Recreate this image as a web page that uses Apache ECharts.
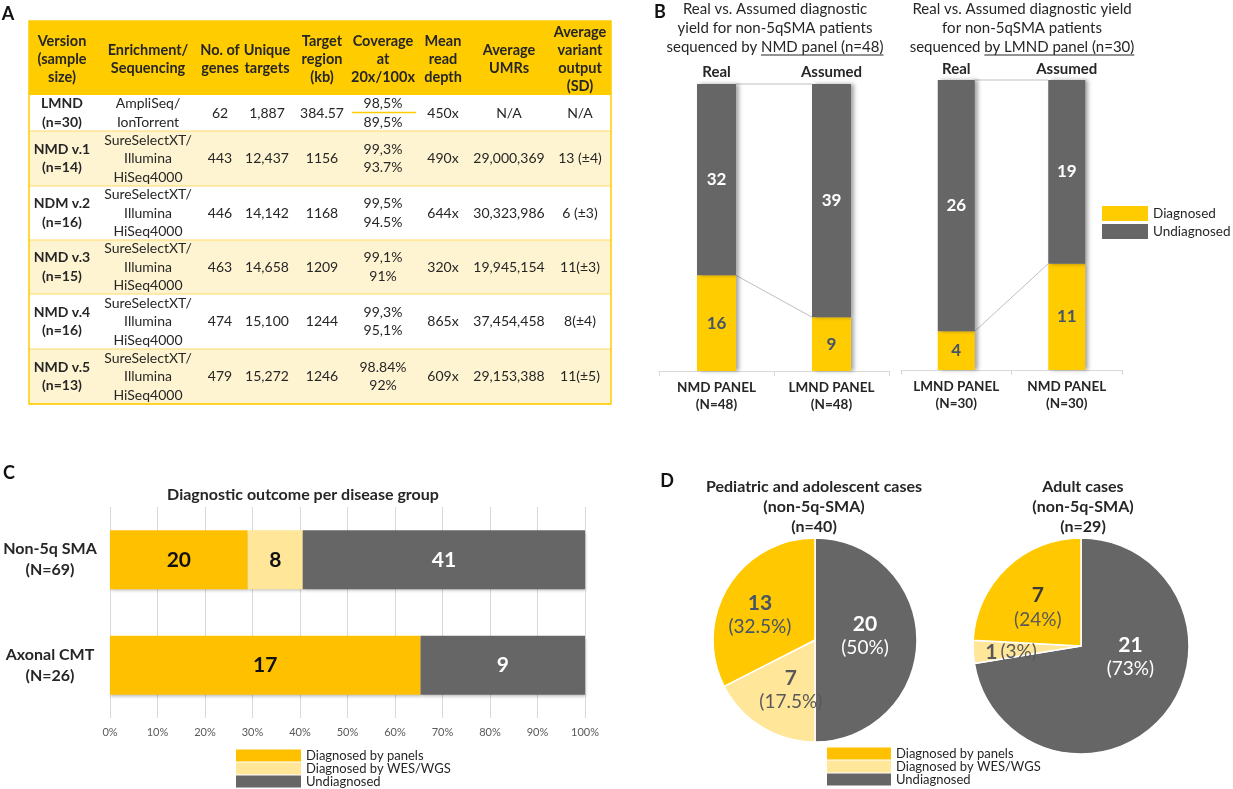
<!DOCTYPE html>
<html><head><meta charset="utf-8">
<script src="https://cdn.jsdelivr.net/npm/echarts@6/dist/echarts.min.js"></script>
<style>html,body{margin:0;padding:0;background:#fff}#c{width:1233px;height:789px}</style>
</head><body><div id="c"></div>
<script>
// ---------- Panel A (table) ----------
const tableHeaders = [['Version','(sample','size)'], ['Enrichment/','Sequencing'], ['No. of','genes'], ['Unique','targets'], ['Target','region','(kb)'], ['Coverage','at','20x/100x'], ['Mean','read','depth'], ['Average','UMRs'], ['Average','variant','output','(SD)']];
const tableVersions = [['LMND','(n=30)'], ['NMD v.1','(n=14)'], ['NDM v.2','(n=16)'], ['NMD v.3','(n=15)'], ['NMD v.4','(n=16)'], ['NMD v.5','(n=13)']];
const tableEnrichment = [['AmpliSeq/','IonTorrent'], ['SureSelectXT/','Illumina','HiSeq4000'], ['SureSelectXT/','Illumina','HiSeq4000'], ['SureSelectXT/','Illumina','HiSeq4000'], ['SureSelectXT/','Illumina','HiSeq4000'], ['SureSelectXT/','Illumina','HiSeq4000']];
const tableGenes = ['62','443','446','463','474','479'];
const tableTargets = ['1,887','12,437','14,142','14,658','15,100','15,272'];
const tableRegion = ['384.57','1156','1168','1209','1244','1246'];
const tableCoverage = [['98,5%','89,5%'], ['99,3%','93.7%'], ['99,5%','94.5%'], ['99,1%','91%'], ['99,3%','95,1%'], ['98.84%','92%']];
const tableDepth = ['450x','490x','644x','320x','865x','609x'];
const tableUMRs = ['N/A','29,000,369','30,323,986','19,945,154','37,454,458','29,153,388'];
const tableVariants = ['N/A','13 (±4)','6 (±3)','11(±3)','8(±4)','11(±5)'];

// ---------- Panel B ----------
const bTitleNMD = ['Real vs. Assumed diagnostic', 'yield for non-5qSMA patients', 'sequenced by NMD panel (n=48)'];
const bTitleLMND = ['Real vs. Assumed diagnostic yield', 'for non-5qSMA patients', 'sequenced by LMND panel (n=30)'];
const bCategoriesNMD = ['NMD PANEL\n(N=48)', 'LMND PANEL\n(N=48)'];
const bCategoriesLMND = ['LMND PANEL\n(N=30)', 'NMD PANEL\n(N=30)'];
const bTopLabels = ['Real', 'Assumed'];
const bDiagnosedNMD = [16, 9];
const bUndiagnosedNMD = [32, 39];
const bDiagnosedLMND = [4, 11];
const bUndiagnosedLMND = [26, 19];

// ---------- Panel C ----------
const cTitle = 'Diagnostic outcome per disease group';
const cCategories = ['Non-5q SMA\n(N=69)', 'Axonal CMT\n(N=26)'];
const cPanels = [20, 17];
const cWES = [8, 0];
const cUndiagnosed = [41, 9];

// ---------- Panel D ----------
const dTitlePediatric = ['Pediatric and adolescent cases', '(non-5q-SMA)', '(n=40)'];
const dTitleAdult = ['Adult cases', '(non-5q-SMA)', '(n=29)'];
const dNames = ['Undiagnosed', 'Diagnosed by WES/WGS', 'Diagnosed by panels'];
const dPediatric = [20, 7, 13];
const dPediatricPct = ['50%', '17.5%', '32.5%'];
const dAdult = [21, 1, 7];
const dAdultPct = ['73%', '3%', '24%'];

// ---------- styling ----------
const FONT = 'Lato';
const TXT = '#262626';
const YB = '#FFCC00';
const YP = '#FFC000';
const YW = '#FFE699';
const GR = '#666666';
const SLATE = '#44546A';

const chart = echarts.init(document.getElementById('c'), null, {renderer: 'canvas'});

function txt(x, y, text, opt) {
  opt = opt || {};
  return {
    type: 'text', x: x, y: y, silent: true, z: opt.z || 10,
    style: {
      text: text, fill: opt.color || TXT,
      fontFamily: FONT, fontSize: opt.size || 14, fontWeight: opt.weight || 'normal',
      align: opt.align || 'center', textAlign: opt.align || 'center',
      verticalAlign: opt.valign || 'middle', textVerticalAlign: opt.valign || 'middle',
      lineHeight: opt.lh || 18
    }
  };
}
function measure(str, font) {
  const c = document.createElement('canvas').getContext('2d');
  c.font = font; return c.measureText(str).width;
}

// ----- table graphic -----
const T = {left: 29, right: 611, headTop: 21, headBottom: 95, rowBottoms: [131, 186, 240, 294, 349, 404], cols: [62, 148, 220, 267, 322, 383, 443, 509, 580]};
const graphics = [];
graphics.push({type: 'rect', silent: true, z: 1, shape: {x: T.left, y: T.headTop, width: T.right - T.left, height: T.headBottom - T.headTop}, style: {fill: YB}});
let rowTop = T.headBottom;
T.rowBottoms.forEach(function (b, i) {
  graphics.push({type: 'rect', silent: true, z: 1, shape: {x: T.left, y: rowTop, width: T.right - T.left, height: b - rowTop}, style: {fill: i % 2 === 0 ? '#FFFFFF' : '#FFF4D1'}});
  graphics.push({type: 'line', silent: true, z: 2, shape: {x1: T.left, y1: b, x2: T.right, y2: b}, style: {stroke: '#FFD966', lineWidth: 1.2}});
  const cy = (rowTop + b) / 2;
  const cells = [tableVersions[i].join('\n'), tableEnrichment[i].join('\n'), tableGenes[i], tableTargets[i], tableRegion[i], tableCoverage[i].join('\n'), tableDepth[i], tableUMRs[i], tableVariants[i]];
  cells.forEach(function (c, j) {
    graphics.push(txt(T.cols[j], cy, c, {size: 14, weight: j === 0 ? 'bold' : 'normal', lh: 18.5}));
  });
  rowTop = b;
});
graphics.push({type: 'line', silent: true, z: 3, shape: {x1: 352, y1: 112.5, x2: 416, y2: 112.5}, style: {stroke: YB, lineWidth: 1.5}});
graphics.push({type: 'rect', silent: true, z: 3, shape: {x: T.left, y: T.headTop, width: T.right - T.left, height: T.rowBottoms[5] - T.headTop}, style: {fill: 'none', stroke: YB, lineWidth: 1.5}});
tableHeaders.forEach(function (h, j) {
  graphics.push(txt(T.cols[j], (T.headTop + T.headBottom) / 2 + 1, h.join('\n'), {size: 14.5, weight: 'bold', lh: 18}));
});

// ----- panel letters -----
graphics.push(txt(8, 14, 'A', {size: 18, weight: 'bold', color: '#111'}));
graphics.push(txt(660, 12, 'B', {size: 18, weight: 'bold', color: '#111'}));
graphics.push(txt(9, 473, 'C', {size: 18, weight: 'bold', color: '#111'}));
graphics.push(txt(667, 481, 'D', {size: 18, weight: 'bold', color: '#111'}));

// ----- B titles + underlines -----
const bT1x = 775, bT2x = 1022;
graphics.push(txt(bT1x, 0, bTitleNMD.join('\n'), {size: 15, lh: 19, valign: 'top'}));
graphics.push(txt(bT2x, 0, bTitleLMND.join('\n'), {size: 15, lh: 19, valign: 'top'}));
(function () {
  const f = '15px ' + FONT;
  const W1 = measure(bTitleNMD[2], f), p1 = measure('sequenced by ', f);
  const s1 = bT1x - W1 / 2;
  graphics.push({type: 'line', silent: true, shape: {x1: s1 + p1, y1: 55, x2: s1 + W1, y2: 55}, style: {stroke: TXT, lineWidth: 1}});
  const W2 = measure(bTitleLMND[2], f), p2 = measure('sequenced ', f);
  const s2 = bT2x - W2 / 2;
  graphics.push({type: 'line', silent: true, shape: {x1: s2 + p2, y1: 55, x2: s2 + W2, y2: 55}, style: {stroke: TXT, lineWidth: 1}});
})();

// ----- C title, D titles -----
graphics.push(txt(303, 495, cTitle, {size: 16, weight: 'bold'}));
graphics.push(txt(814, 477, dTitlePediatric.join('\n'), {size: 16, weight: 'bold', lh: 20, valign: 'top'}));
graphics.push(txt(1083, 477, dTitleAdult.join('\n'), {size: 16, weight: 'bold', lh: 20, valign: 'top'}));

// ----- helpers for series -----
const barShadow = {shadowColor: 'rgba(0,0,0,0.35)', shadowBlur: 4, shadowOffsetX: 3, shadowOffsetY: 0};
function bBar(name, data, xi, yi, stack, color, labelColor, width) {
  return {
    name: name, type: 'bar', xAxisIndex: xi, yAxisIndex: yi, stack: stack, data: data, barWidth: width,
    itemStyle: Object.assign({color: color}, barShadow),
    label: {show: true, position: 'inside', color: labelColor, fontFamily: FONT, fontWeight: 'bold', fontSize: 17},
    emphasis: {disabled: true}
  };
}
function connector(xi, yi, v0, v1, hw) {
  return {
    type: 'custom', xAxisIndex: xi, yAxisIndex: yi, silent: true, z: 1,
    data: [[0, v0, v1]], encode: {x: 0, y: [1, 2]},
    renderItem: function (params, api) {
      const a = api.coord([0, api.value(1)]);
      const b = api.coord([1, api.value(2)]);
      return {type: 'line', shape: {x1: a[0] + hw, y1: a[1], x2: b[0] - hw, y2: b[1]}, style: {stroke: '#bfbfbf', lineWidth: 1}};
    }
  };
}
function bottomCat(grid, data) {
  return {
    type: 'category', gridIndex: grid, position: 'bottom', data: data,
    axisLine: {lineStyle: {color: '#d9d9d9'}},
    axisTick: {show: true, length: 5, lineStyle: {color: '#d9d9d9'}},
    axisLabel: {interval: 0, color: TXT, fontFamily: FONT, fontWeight: 'bold', fontSize: 13.5, lineHeight: 17, margin: 8}
  };
}
function topCat(grid, data, margin) {
  return {
    type: 'category', gridIndex: grid, position: 'top', data: data,
    axisLine: {show: false}, axisTick: {show: false},
    axisLabel: {interval: 0, color: TXT, fontFamily: FONT, fontWeight: 'bold', fontSize: 15, margin: margin}
  };
}

const totalsNMD = bDiagnosedNMD.map(function (v, i) { return v + bUndiagnosedNMD[i]; });
const totalsLMND = bDiagnosedLMND.map(function (v, i) { return v + bUndiagnosedLMND[i]; });
const cTotals = cPanels.map(function (v, i) { return v + cWES[i] + cUndiagnosed[i]; });
function pct(arr) { return arr.map(function (v, i) { return v / cTotals[i] * 100; }); }
function cBar(name, counts, color, labelColor) {
  return {
    name: name, type: 'bar', xAxisIndex: 4, yAxisIndex: 2, stack: 'c', data: pct(counts), barWidth: 59,
    itemStyle: {color: color, shadowColor: 'rgba(0,0,0,0.25)', shadowBlur: 3, shadowOffsetX: 1, shadowOffsetY: 2},
    label: {show: true, position: 'inside', color: labelColor, fontFamily: FONT, fontWeight: 'bold', fontSize: 21,
      formatter: function (p) { return counts[p.dataIndex] ? String(counts[p.dataIndex]) : ''; }},
    emphasis: {disabled: true}
  };
}

const sliceColors = [GR, YW, '#FFC800'];
function pieData(values, labelColors) {
  return values.map(function (v, i) {
    return {
      name: dNames[i], value: v, itemStyle: {color: sliceColors[i]},
      label: {rich: {n: {color: labelColors[i][0]}, p: {color: labelColors[i][1]}}}
    };
  });
}
function pieSeries(center, radius, values, pcts, labelColors, shifts) {
  return {
    type: 'pie', center: center, radius: radius, startAngle: 90, clockwise: true,
    avoidLabelOverlap: false, silent: true, emphasis: {disabled: true},
    itemStyle: {borderColor: '#ffffff', borderWidth: 1.5},
    labelLine: {show: false},
    labelLayout: function (p) { const s = shifts[p.dataIndex]; return {dx: s[0], dy: s[1]}; },
    label: {
      show: true, position: 'inside',
      formatter: function (p) {
        const pc = pcts[p.dataIndex];
        return parseFloat(pc) < 5 ? '{n|' + p.value + '} {p|(' + pc + ')}' : '{n|' + p.value + '}\n{p|(' + pc + ')}';
      },
      rich: {
        n: {fontFamily: FONT, fontWeight: 'bold', fontSize: 21, lineHeight: 24},
        p: {fontFamily: FONT, fontSize: 19, lineHeight: 24}
      }
    },
    data: pieData(values, labelColors)
  };
}

const option = {
  animation: false,
  backgroundColor: '#ffffff',
  textStyle: {fontFamily: FONT},
  graphic: {elements: graphics},
  grid: [
    {left: 659, top: 84, width: 230, height: 287},
    {left: 901, top: 80, width: 221, height: 290},
    {left: 110, top: 507, width: 475, height: 211}
  ],
  xAxis: [
    bottomCat(0, bCategoriesNMD),
    topCat(0, bTopLabels, 4),
    bottomCat(1, bCategoriesLMND),
    topCat(1, bTopLabels, 3),
    {
      type: 'value', gridIndex: 2, min: 0, max: 100, interval: 10,
      axisLine: {show: false}, axisTick: {show: false},
      splitLine: {show: true, lineStyle: {color: '#d9d9d9', width: 1}},
      axisLabel: {formatter: '{value}%', color: '#595959', fontFamily: FONT, fontSize: 11, margin: 9}
    }
  ],
  yAxis: [
    {type: 'value', gridIndex: 0, min: 0, max: 48, show: false},
    {type: 'value', gridIndex: 1, min: 0, max: 30, show: false},
    {
      type: 'category', gridIndex: 2, inverse: true, data: cCategories,
      axisLine: {show: false}, axisTick: {show: false},
      axisLabel: {align: 'center', margin: 60, color: TXT, fontFamily: FONT, fontWeight: 'bold', fontSize: 16, lineHeight: 21}
    }
  ],
  legend: [
    {
      data: ['Diagnosed', 'Undiagnosed'], orient: 'vertical', left: 1102, top: 206,
      itemWidth: 46, itemHeight: 15, itemGap: 3, icon: 'rect', selectedMode: false, padding: 0,
      textStyle: {color: TXT, fontFamily: FONT, fontSize: 13.5}
    },
    {
      data: ['Diagnosed by panels', 'Diagnosed by WES/WGS', 'Undiagnosed'], orient: 'vertical', left: 236, top: 749,
      itemWidth: 65, itemHeight: 12, itemGap: 0, icon: 'rect', selectedMode: false, padding: 0,
      textStyle: {color: TXT, fontFamily: FONT, fontSize: 13, lineHeight: 12}
    },
    {
      data: ['Diagnosed by panels', 'Diagnosed by WES/WGS', 'Undiagnosed'], orient: 'vertical', left: 827, top: 747,
      itemWidth: 64, itemHeight: 12, itemGap: 0, icon: 'rect', selectedMode: false, padding: 0,
      textStyle: {color: TXT, fontFamily: FONT, fontSize: 13, lineHeight: 12}
    }
  ],
  series: [
    bBar('Diagnosed', bDiagnosedNMD, 0, 0, 'b1', YB, SLATE, 39),
    bBar('Undiagnosed', bUndiagnosedNMD, 0, 0, 'b1', GR, '#ffffff', 39),
    connector(0, 0, bDiagnosedNMD[0], bDiagnosedNMD[1], 19.5),
    connector(0, 0, totalsNMD[0], totalsNMD[1], 19.5),
    bBar('Diagnosed', bDiagnosedLMND, 2, 1, 'b2', YB, SLATE, 37),
    bBar('Undiagnosed', bUndiagnosedLMND, 2, 1, 'b2', GR, '#ffffff', 37),
    connector(2, 1, bDiagnosedLMND[0], bDiagnosedLMND[1], 18.5),
    connector(2, 1, totalsLMND[0], totalsLMND[1], 18.5),
    cBar('Diagnosed by panels', cPanels, YP, '#111111'),
    cBar('Diagnosed by WES/WGS', cWES, YW, '#111111'),
    cBar('Undiagnosed', cUndiagnosed, GR, '#ffffff'),
    pieSeries([815, 640], 102, dPediatric, dPediatricPct, [['#ffffff', '#ffffff'], ['#595959', '#595959'], [SLATE, SLATE]], [[-4, -4], [4, 4], [-9, 3]]),
    pieSeries([1081, 646], 108, dAdult, dAdultPct, [['#ffffff', '#ffffff'], ['#595959', '#595959'], ['#3a3a3a', '#595959']], [[6, -26], [-13, 3], [-4, 3]])
  ]
};
chart.setOption(option);
</script>
</body></html>
